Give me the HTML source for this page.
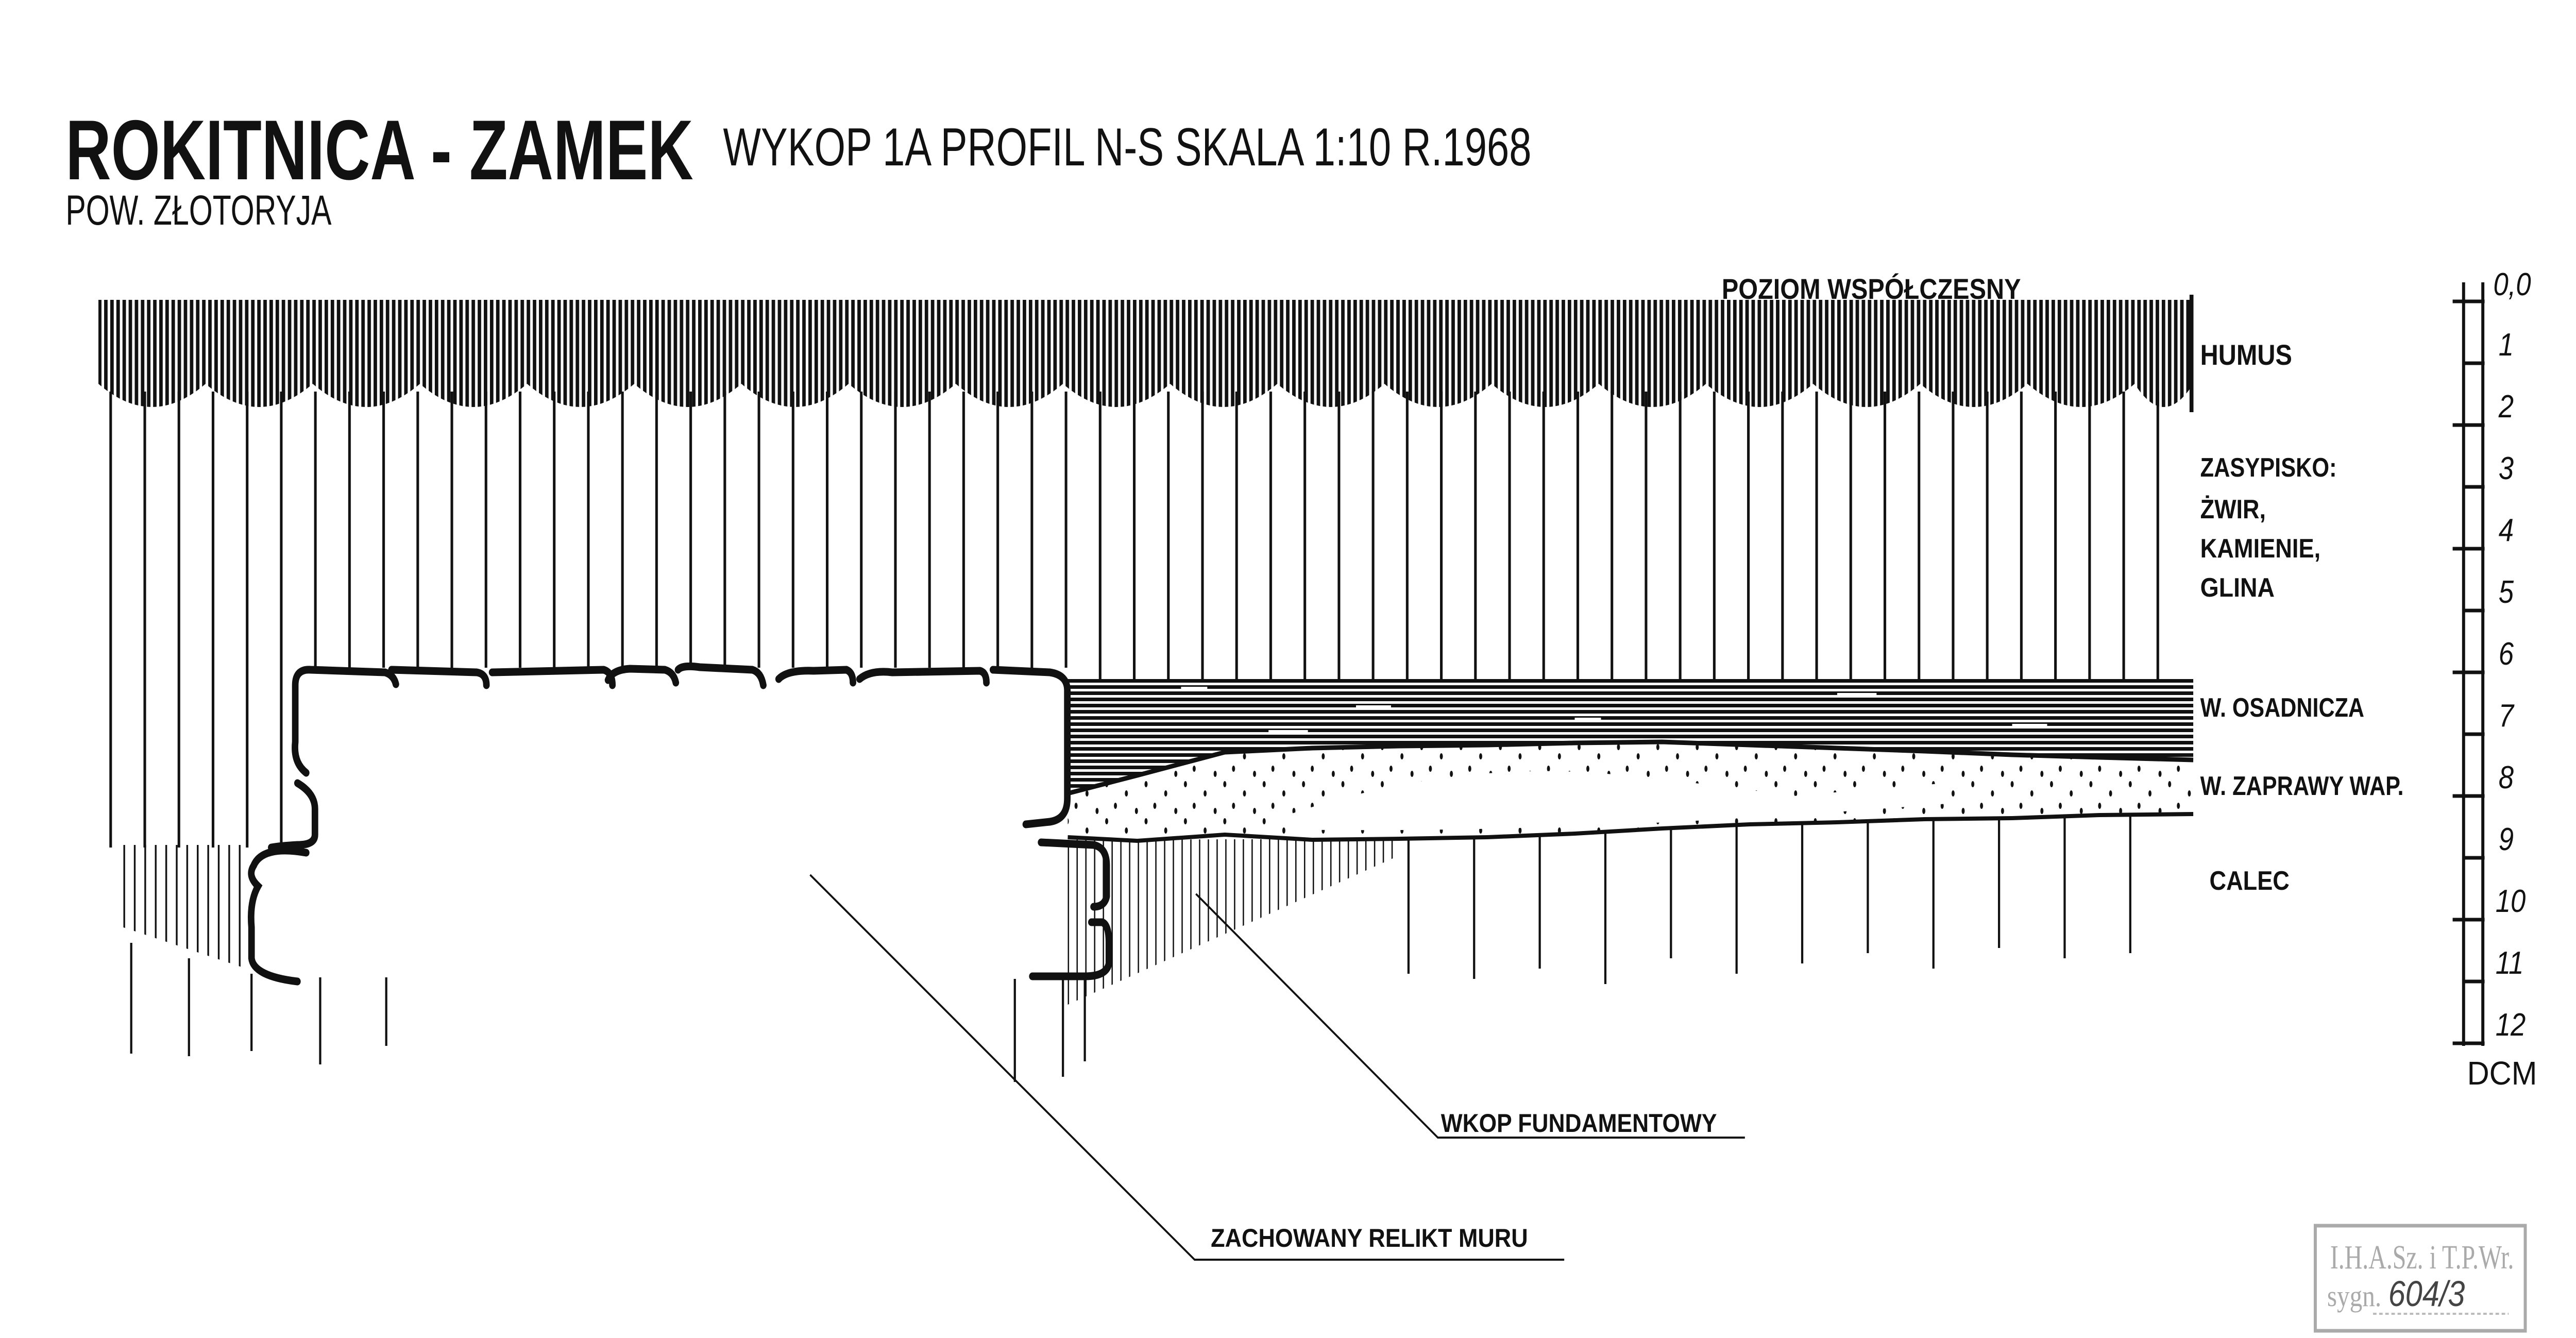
<!DOCTYPE html>
<html><head><meta charset="utf-8">
<style>
html,body{margin:0;padding:0;background:#fff;overflow:hidden;width:100%;height:100%;}
svg{display:block;width:100vw;height:100vh;}
text{font-family:"Liberation Sans",sans-serif;fill:#111;}
</style></head>
<body>
<svg xmlns="http://www.w3.org/2000/svg" viewBox="0 0 5889 2597" preserveAspectRatio="none">
<defs>
<pattern id="pH" patternUnits="userSpaceOnUse" width="14" height="50"><rect x="0" y="0" width="8" height="50" fill="#111"/></pattern>
<pattern id="pZ" patternUnits="userSpaceOnUse" x="250" width="78" height="600"><rect x="0" y="0" width="6" height="600" fill="#111"/></pattern>
<pattern id="pW" patternUnits="userSpaceOnUse" x="282" width="24" height="50"><rect x="0" y="0" width="4" height="50" fill="#111"/></pattern>
<pattern id="pO" patternUnits="userSpaceOnUse" y="1318" width="400" height="12"><rect x="0" y="0" width="400" height="7" fill="#111"/></pattern>
<pattern id="pD" patternUnits="userSpaceOnUse" width="90" height="72">
<ellipse cx="10" cy="10" rx="3.5" ry="6" fill="#111"/><ellipse cx="55" cy="28" rx="3.5" ry="6" fill="#111"/><ellipse cx="30" cy="52" rx="3.5" ry="6" fill="#111"/><ellipse cx="78" cy="62" rx="3.5" ry="6" fill="#111"/></pattern>
<pattern id="pC" patternUnits="userSpaceOnUse" x="2441" width="20" height="50"><rect x="0" y="0" width="3" height="50" fill="#111"/></pattern>
</defs>
<rect width="5889" height="2597" fill="#fff"/>

<path d="M240,760 L5000,760 L5000,1318 L2441,1318 L2441,1296 L669,1296 L669,1645 L240,1645 Z" fill="url(#pZ)"/>
<path d="M225,582 L5014,582 L5014,745 Q4947,835 4880,745 Q4757,835 4635,745 Q4512,835 4390,745 Q4267,835 4145,745 Q4022,835 3900,745 Q3777,835 3655,745 Q3532,835 3410,745 Q3287,835 3165,745 Q3042,835 2920,745 Q2797,835 2675,745 Q2552,835 2430,745 Q2307,835 2185,745 Q2062,835 1940,745 Q1817,835 1695,745 Q1572,835 1450,745 Q1327,835 1205,745 Q1082,835 960,745 Q837,835 715,745 Q592,835 470,745 Q347,835 225,745 Z" fill="url(#pH)"/>
<line x1="5010" y1="572" x2="5010" y2="800" stroke="#111" stroke-width="9"/>
<path d="M282,1640 L563,1640 L563,1880 L282,1800 Z" fill="url(#pW)"/>
<g stroke="#111" stroke-width="5">
<line x1="300" y1="1830" x2="300" y2="2045"/><line x1="432" y1="1860" x2="432" y2="2050"/><line x1="575" y1="1890" x2="575" y2="2040"/>
<line x1="732" y1="1897" x2="732" y2="2066"/><line x1="883" y1="1897" x2="883" y2="2030"/>
<line x1="2320" y1="1900" x2="2320" y2="2100"/><line x1="2430" y1="1900" x2="2430" y2="2090"/><line x1="2480" y1="1900" x2="2480" y2="2060"/>
</g>
<path d="M2441,1318 L5014,1318 L5014,1475 L3800,1440 L2800,1460 L2441,1540 Z" fill="url(#pO)"/>
<g stroke="#fff" stroke-width="6">
<line x1="2700" y1="1336" x2="2760" y2="1336"/><line x1="3100" y1="1372" x2="3180" y2="1372"/><line x1="3600" y1="1396" x2="3660" y2="1396"/>
<line x1="4200" y1="1348" x2="4290" y2="1348"/><line x1="2900" y1="1420" x2="2990" y2="1420"/><line x1="4600" y1="1408" x2="4680" y2="1408"/>
</g>
<path d="M2441,1540 L2600,1505 L2800,1460 L3000,1452 L3200,1448 L3400,1446 L3600,1442 L3800,1440 L4000,1446 L4200,1452 L4400,1458 L4600,1465 L4800,1470 L5014,1475" fill="none" stroke="#111" stroke-width="9"/>
<path d="M2441,1540 L2800,1460 L3800,1440 L5014,1475 L5014,1580 L4000,1600 L3400,1625 L2441,1625 Z" fill="url(#pD)"/>
<path d="M2950,1580 Q3300,1480 3650,1500 Q3900,1520 4100,1545 Q4300,1530 4450,1520 L4450,1560 Q4000,1590 3700,1600 Q3300,1615 2950,1610 Z" fill="#fff"/>
<path d="M2441,1625 L2600,1632 L2800,1620 L3000,1630 L3200,1628 L3400,1625 L3600,1618 L3800,1608 L4000,1600 L4200,1596 L4400,1590 L4600,1588 L4800,1582 L5014,1580" fill="none" stroke="#111" stroke-width="8"/>
<path d="M2441,1630 L3200,1628 L3200,1660 L2441,1950 Z" fill="url(#pC)"/>
<g stroke="#111" stroke-width="5">
<line x1="3220" y1="1628" x2="3220" y2="1890"/><line x1="3370" y1="1626" x2="3370" y2="1900"/><line x1="3520" y1="1620" x2="3520" y2="1880"/>
<line x1="3670" y1="1614" x2="3670" y2="1910"/><line x1="3820" y1="1607" x2="3820" y2="1860"/><line x1="3970" y1="1601" x2="3970" y2="1890"/>
<line x1="4120" y1="1598" x2="4120" y2="1870"/><line x1="4270" y1="1594" x2="4270" y2="1850"/><line x1="4420" y1="1590" x2="4420" y2="1880"/>
<line x1="4570" y1="1588" x2="4570" y2="1840"/><line x1="4720" y1="1584" x2="4720" y2="1860"/><line x1="4870" y1="1581" x2="4870" y2="1850"/>
</g>

<text x="150" y="348" font-size="165" font-weight="bold" textLength="1435" lengthAdjust="spacingAndGlyphs">ROKITNICA - ZAMEK</text>
<text x="1653" y="321" font-size="104" textLength="1848" lengthAdjust="spacingAndGlyphs">WYKOP 1A  PROFIL N-S  SKALA 1:10  R.1968</text>
<text x="150" y="436" font-size="82" textLength="608" lengthAdjust="spacingAndGlyphs">POW. ZŁOTORYJA</text>
<text x="3936" y="580" font-size="56" font-weight="bold" textLength="684" lengthAdjust="spacingAndGlyphs">POZIOM WSPÓŁCZESNY</text>
<text x="5030" y="708" font-size="56" font-weight="bold" textLength="210" lengthAdjust="spacingAndGlyphs">HUMUS</text>
<text x="5030" y="925" font-size="52" font-weight="bold" textLength="312" lengthAdjust="spacingAndGlyphs">ZASYPISKO:</text>
<text x="5030" y="1006" font-size="52" font-weight="bold" textLength="150" lengthAdjust="spacingAndGlyphs">ŻWIR,</text>
<text x="5030" y="1082" font-size="52" font-weight="bold" textLength="275" lengthAdjust="spacingAndGlyphs">KAMIENIE,</text>
<text x="5030" y="1158" font-size="52" font-weight="bold" textLength="170" lengthAdjust="spacingAndGlyphs">GLINA</text>
<text x="5030" y="1391" font-size="52" font-weight="bold" textLength="375" lengthAdjust="spacingAndGlyphs">W. OSADNICZA</text>
<text x="5030" y="1543" font-size="52" font-weight="bold" textLength="465" lengthAdjust="spacingAndGlyphs">W. ZAPRAWY WAP.</text>
<text x="5051" y="1727" font-size="52" font-weight="bold" textLength="183" lengthAdjust="spacingAndGlyphs">CALEC</text>
<text x="3294" y="2197" font-size="50" font-weight="bold" textLength="631" lengthAdjust="spacingAndGlyphs">WKOP FUNDAMENTOWY</text>
<text x="2768" y="2420" font-size="50" font-weight="bold" textLength="725" lengthAdjust="spacingAndGlyphs">ZACHOWANY RELIKT MURU</text>
<polyline points="1852,1698 2731,2445 3576,2445" fill="none" stroke="#111" stroke-width="4"/>
<polyline points="2734,1735 3287,2208 3989,2208" fill="none" stroke="#111" stroke-width="4"/>
<g stroke="#111" stroke-width="7" fill="none">
<line x1="5632" y1="548" x2="5632" y2="2030"/>
<line x1="5676" y1="548" x2="5676" y2="2030"/>
<line x1="5607" y1="585" x2="5680" y2="585"/><line x1="5632" y1="705" x2="5680" y2="705"/>
<line x1="5607" y1="825" x2="5680" y2="825"/><line x1="5632" y1="945" x2="5680" y2="945"/>
<line x1="5607" y1="1065" x2="5680" y2="1065"/><line x1="5632" y1="1185" x2="5680" y2="1185"/>
<line x1="5607" y1="1305" x2="5680" y2="1305"/><line x1="5632" y1="1425" x2="5680" y2="1425"/>
<line x1="5607" y1="1545" x2="5680" y2="1545"/><line x1="5632" y1="1665" x2="5680" y2="1665"/>
<line x1="5607" y1="1785" x2="5680" y2="1785"/><line x1="5632" y1="1905" x2="5680" y2="1905"/>
<line x1="5607" y1="2025" x2="5680" y2="2025"/>
</g>
<g font-size="62" font-style="italic">
<text x="5700" y="573">0,0</text>
<text x="5712" y="690">1</text><text x="5712" y="810">2</text><text x="5712" y="930">3</text>
<text x="5712" y="1050">4</text><text x="5712" y="1170">5</text><text x="5712" y="1290">6</text>
<text x="5712" y="1410">7</text><text x="5712" y="1530">8</text><text x="5712" y="1650">9</text>
<text x="5705" y="1770">10</text><text x="5705" y="1890">11</text><text x="5705" y="2010">12</text>
<text x="5640" y="2105" font-style="normal" font-size="64" textLength="160" lengthAdjust="spacingAndGlyphs">DCM</text>
</g>
<rect x="5293" y="2379" width="480" height="204" fill="none" stroke="#aaa" stroke-width="7"/>
<text x="5327" y="2462" font-size="66" style="fill:#aaa;font-family:'Liberation Serif',serif" textLength="420" lengthAdjust="spacingAndGlyphs">I.H.A.Sz. i T.P.Wr.</text>
<text x="5320" y="2535" font-size="58" style="fill:#aaa;font-family:'Liberation Serif',serif">sygn.</text>
<text x="5460" y="2535" font-size="70" font-style="italic" style="fill:#444">604/3</text>
<line x1="5425" y1="2550" x2="5735" y2="2550" stroke="#bbb" stroke-width="4" stroke-dasharray="8,6"/>
<g fill="none" stroke="#111" stroke-width="15" stroke-linecap="round">
<path d="M700,1500 Q670,1480 675,1440 L675,1330 Q675,1298 710,1300 L880,1305 Q900,1310 905,1328"/>
<path d="M895,1300 L1090,1305 Q1112,1308 1112,1330"/>
<path d="M1125,1305 L1380,1300 Q1400,1305 1400,1330 M1390,1320 Q1400,1300 1440,1298 L1520,1300 Q1540,1305 1545,1325"/>
<path d="M1550,1300 Q1560,1290 1600,1295 L1720,1300 Q1740,1305 1745,1330"/>
<path d="M1780,1318 Q1800,1300 1860,1302 L1935,1300 Q1950,1305 1950,1325"/>
<path d="M1965,1318 Q1990,1300 2040,1305 L2240,1302 Q2255,1305 2255,1325"/>
<path d="M2270,1300 L2400,1305 Q2440,1310 2440,1340 L2440,1550 Q2440,1590 2400,1595 L2345,1600"/>
<path d="M2380,1635 L2500,1640 Q2530,1645 2530,1680 L2530,1740 Q2525,1760 2500,1760"/>
<path d="M2495,1790 L2520,1790 Q2535,1795 2535,1830 L2535,1870 Q2530,1895 2480,1895 L2360,1895"/>
<path d="M680,1520 Q720,1540 720,1570 L720,1620 Q720,1640 680,1640 Q640,1642 620,1645"/>
<path d="M700,1655 Q600,1640 580,1680 Q565,1700 590,1720 Q570,1750 575,1800 L575,1860 Q580,1895 680,1905"/>
</g>
</svg>
</body></html>
